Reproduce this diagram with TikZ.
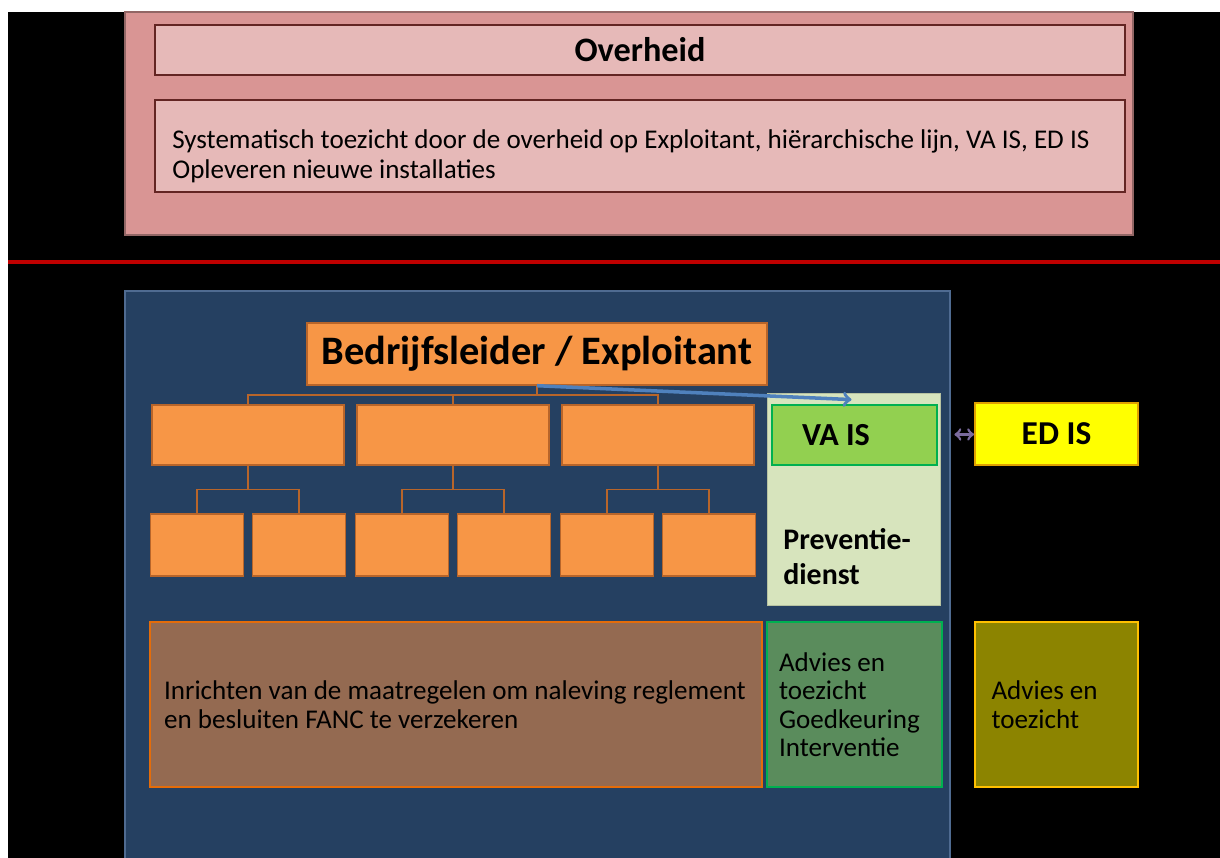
\documentclass[tikz,border=0pt]{standalone}
\usepackage{fontspec}
\setmainfont{Carlito}
\usetikzlibrary{trees,calc}
\definecolor{pinkback}{HTML}{D99594}
\definecolor{pinkbox}{HTML}{E6B9B8}
\definecolor{pinkline}{HTML}{632523}
\definecolor{slideblue}{HTML}{254061}
\definecolor{slidebluerim}{HTML}{4F6B91}
\definecolor{orgfill}{HTML}{F79646}
\definecolor{orgline}{HTML}{B8652A}
\definecolor{prevfill}{HTML}{D7E4BD}
\definecolor{vafill}{HTML}{92D050}
\definecolor{vaedge}{HTML}{00B050}
\definecolor{edfill}{HTML}{FFFF00}
\definecolor{edrim}{HTML}{E0A000}
\definecolor{brownfill}{HTML}{946A51}
\definecolor{brownrim}{HTML}{E46C0A}
\definecolor{greenfill}{HTML}{5A8C5C}
\definecolor{olivefill}{HTML}{8C8400}
\definecolor{oliverim}{HTML}{FFC000}
\definecolor{arrowblue}{HTML}{4F81BD}
\definecolor{linkgrey}{HTML}{7A6A9E}
\definecolor{redline}{HTML}{C00000}
\tikzset{orgbox/.style={rectangle,draw=orgline,fill=orgfill,line width=0.8pt,inner sep=0pt},
    unitbox/.style={orgbox,minimum width=1.86cm,minimum height=1.24cm},
    deptbox/.style={orgbox,minimum width=3.84cm,minimum height=1.2cm},
    textbox/.style={rectangle,align=flush left,inner ysep=0pt,font=\fontsize{15.4}{16.2}\selectfont}}

\begin{document}
\begin{tikzpicture}[x=0.02cm,y=-0.02cm,
        level 1/.style={level distance=1.62cm,sibling distance=4.1cm,every child node/.style={xshift=-1.68cm}},
        level 2/.style={level distance=2.2cm,sibling distance=2.04cm,every child node/.style={}},
        edge from parent/.style={draw=orgline,line width=1pt},
        edge from parent path={(\tikzparentnode.south) |- ($(\tikzparentnode.south)!0.5!(\tikzchildnode.north)$) -| (\tikzchildnode.north)}]
    \useasboundingbox (0,0) rectangle (1220,858);
    \fill[white] (0,0) rectangle (1220,858);
    \fill[black] (8,12) rectangle (1220,858);
    \filldraw[fill=pinkback,draw=pinkline!70,line width=1pt] (125,12) rectangle (1133,235);
    \draw[redline,line width=0.1cm] (8,262) -- (1220,262);
    \fill[slideblue] (125,291) rectangle (950,858);
    \draw[slidebluerim,line width=1.5pt] (125,858) -- (125,291) -- (950,291) -- (950,858);

    \node[rectangle,draw=pinkline,fill=pinkbox,line width=1.2pt,minimum width=19.4cm,minimum height=1cm,
        font=\fontsize{19.5}{22}\selectfont\bfseries] (overheid) at (640,50) {Overheid};
    \node[rectangle,draw=pinkline,fill=pinkbox,line width=1.2pt,minimum width=19.4cm,minimum height=1.84cm] (toezicht) at (640,146) {};
    \node[textbox,anchor=west,inner xsep=0pt,font=\fontsize{15.4}{17}\selectfont] (toezichttext) at (172,156)
        {Systematisch toezicht door de overheid op Exploitant, hiërarchische lijn, VA IS, ED IS\\Opleveren nieuwe installaties};

    \node[rectangle,fill=prevfill,draw=prevfill!85!black,minimum width=3.46cm,minimum height=4.24cm] (prev) at (853.5,499) {};
    \node[anchor=west,align=left,inner sep=0pt,font=\fontsize{17}{20}\selectfont\bfseries] (prevtext) at (783,557) {Preventie-\\dienst};

    \node[orgbox,minimum width=9.2cm,minimum height=1.24cm,font=\fontsize{23}{26}\selectfont\bfseries] (boss) at (537,354) {Bedrijfsleider / Exploitant}
        child{node[deptbox] (dept1) {}
            child{node[unitbox] (unit1) {}}
            child{node[unitbox] (unit2) {}}
        }
        child{node[deptbox] (dept2) {}
            child{node[unitbox] (unit3) {}}
            child{node[unitbox] (unit4) {}}
        }
        child{node[deptbox] (dept3) {}
            child{node[unitbox] (unit5) {}}
            child{node[unitbox] (unit6) {}}
        };

    \node[rectangle,fill=vafill,draw=vaedge,line width=1.6pt,minimum height=1.2cm,text width=2.1cm,inner xsep=0.6cm,
        align=flush left,font=\fontsize{18.3}{21}\selectfont\bfseries] (vais) at (854.5,435) {VA IS};
    \node[rectangle,fill=edfill,draw=edrim,line width=1pt,minimum width=3.26cm,minimum height=1.24cm,
        font=\fontsize{19}{22}\selectfont\bfseries] (edis) at (1056.5,434) {ED IS};

    \draw[arrowblue,line width=2pt,->] (boss.south) -- ([xshift=-0.06cm,yshift=0.08cm]vais.north);
    \draw[linkgrey,line width=1.5pt,<->,shorten <=0.32cm] (vais) -- (edis);

    \node[textbox,fill=brownfill,draw=brownrim,line width=1pt,text width=11.68cm,inner xsep=0.28cm,minimum height=3.3cm] (inrichten) at (456,704.5)
        {Inrichten van de maatregelen om naleving reglement\\en besluiten FANC te verzekeren};
    \node[textbox,fill=greenfill,draw=vaedge,line width=1.6pt,text width=3.02cm,inner xsep=0.24cm,minimum height=3.3cm] (advies) at (854.5,704.5)
        {Advies en\\toezicht\\Goedkeuring\\Interventie};
    \node[textbox,fill=olivefill,draw=oliverim,line width=1.6pt,text width=2.6cm,inner xsep=0.33cm,minimum height=3.3cm] (adviesed) at (1056.5,704.5)
        {Advies en\\toezicht};
\end{tikzpicture}
\end{document}
